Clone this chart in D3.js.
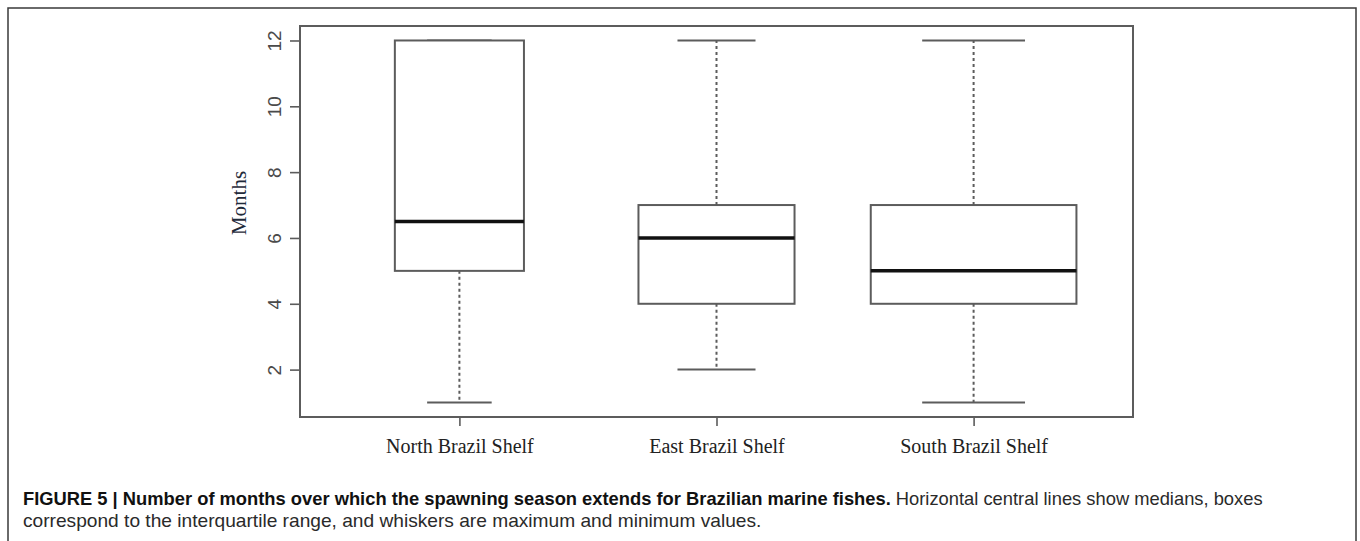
<!DOCTYPE html>
<html>
<head>
<meta charset="utf-8">
<script src="https://cdn.jsdelivr.net/npm/d3@7"></script>
<style>
  html, body { margin: 0; padding: 0; background: #fff; }
  svg { display: block; }
</style>
</head>
<body>
<svg id="chart" width="1360" height="541"></svg>
<script>
// ---- data ----
const categories = ["North Brazil Shelf", "East Brazil Shelf", "South Brazil Shelf"];
const minValues = [1, 2, 1];
const q1Values = [5, 4, 4];
const medianValues = [6.5, 6, 5];
const q3Values = [12, 7, 7];
const maxValues = [12, 12, 12];
const sampleSizes = [26, 38, 66];   // box widths drawn proportional to sqrt(n)
const yTickValues = [2, 4, 6, 8, 10, 12];
const yLabel = "Months";
const captionBold = "FIGURE 5 | Number of months over which the spawning season extends for Brazilian marine fishes.";
const captionRest = " Horizontal central lines show medians, boxes";
const captionLine2 = "correspond to the interquartile range, and whiskers are maximum and minimum values.";

const svg = d3.select("#chart");
const plot = { left: 300, right: 1133, top: 26, bottom: 417 };

// outer figure frame
svg.append("path")
  .attr("d", "M8,541 L8,8 L1356,8 L1356,541")
  .attr("fill", "none").attr("stroke", "#3a3a3a").attr("stroke-width", 1.5);

const boxes = categories.map((c, i) => ({
  cat: c, i: i + 1, min: minValues[i], q1: q1Values[i], med: medianValues[i],
  q3: q3Values[i], max: maxValues[i], n: sampleSizes[i]
}));

// R-style extended domains (4%)
const yMin = d3.min(minValues), yMax = d3.max(maxValues);
const yPad = (yMax - yMin) * 0.04;
const y = d3.scaleLinear().domain([yMin - yPad, yMax + yPad]).range([plot.bottom, plot.top]);
const xPad = 3 * 0.04;
const x = d3.scaleLinear().domain([0.5 - xPad, categories.length + 0.5 + xPad]).range([plot.left, plot.right]);
const maxSqrt = d3.max(sampleSizes, n => Math.sqrt(n));
const halfW = d => 0.4 * Math.sqrt(d.n) / maxSqrt;

const lineColor = "#5c5c5c";

// y axis
const yAxis = svg.append("g")
  .attr("transform", `translate(${plot.left},0)`)
  .call(d3.axisLeft(y).tickValues(yTickValues).tickSize(10).tickPadding(0).tickFormat(d3.format("d")));
yAxis.select(".domain").remove();
yAxis.selectAll(".tick line").attr("stroke", lineColor).attr("stroke-width", 1.6);
yAxis.selectAll(".tick text")
  .attr("transform", "translate(-19,0) rotate(-90)")
  .attr("x", 0).attr("y", 0).attr("dy", 0)
  .attr("text-anchor", "middle")
  .attr("font-family", "'Liberation Sans', Arial, sans-serif")
  .attr("font-size", 19).attr("fill", "#4a4a4a");

// x axis
const xAxis = svg.append("g")
  .attr("transform", `translate(0,${plot.bottom})`)
  .call(d3.axisBottom(x).tickValues(boxes.map(d => d.i)).tickSize(9).tickPadding(0).tickFormat(i => categories[i - 1]));
xAxis.select(".domain").remove();
xAxis.selectAll(".tick line").attr("stroke", lineColor).attr("stroke-width", 1.6);
xAxis.selectAll(".tick text")
  .attr("y", 36).attr("dy", 0)
  .attr("font-family", "'Liberation Serif', 'Times New Roman', serif")
  .attr("font-size", 20).attr("fill", "#222");

// y label
svg.append("text")
  .attr("transform", `translate(246,203) rotate(-90)`)
  .attr("text-anchor", "middle")
  .attr("font-family", "'Liberation Serif', 'Times New Roman', serif")
  .attr("font-size", 21).attr("fill", "#1f2a3a")
  .text(yLabel);

// boxes
const g = svg.append("g");
const bx = g.selectAll("g.box").data(boxes).join("g").attr("class", "box");

// whiskers
bx.append("line")
  .attr("x1", d => x(d.i)).attr("x2", d => x(d.i))
  .attr("y1", d => y(d.q3)).attr("y2", d => y(d.max))
  .attr("stroke", lineColor).attr("stroke-width", 2).attr("stroke-dasharray", "3,3");
bx.append("line")
  .attr("x1", d => x(d.i)).attr("x2", d => x(d.i))
  .attr("y1", d => y(d.q1)).attr("y2", d => y(d.min))
  .attr("stroke", lineColor).attr("stroke-width", 2).attr("stroke-dasharray", "3,3");
// staples
bx.append("line")
  .attr("x1", d => x(d.i - halfW(d) / 2)).attr("x2", d => x(d.i + halfW(d) / 2))
  .attr("y1", d => y(d.max)).attr("y2", d => y(d.max))
  .attr("stroke", lineColor).attr("stroke-width", 2);
bx.append("line")
  .attr("x1", d => x(d.i - halfW(d) / 2)).attr("x2", d => x(d.i + halfW(d) / 2))
  .attr("y1", d => y(d.min)).attr("y2", d => y(d.min))
  .attr("stroke", lineColor).attr("stroke-width", 2);
// box
bx.append("rect")
  .attr("x", d => x(d.i - halfW(d))).attr("width", d => x(d.i + halfW(d)) - x(d.i - halfW(d)))
  .attr("y", d => y(d.q3)).attr("height", d => y(d.q1) - y(d.q3))
  .attr("fill", "#fff").attr("stroke", lineColor).attr("stroke-width", 2);
// median
bx.append("line")
  .attr("x1", d => x(d.i - halfW(d))).attr("x2", d => x(d.i + halfW(d)))
  .attr("y1", d => y(d.med)).attr("y2", d => y(d.med))
  .attr("stroke", "#111").attr("stroke-width", 3.5);

// plot frame
svg.append("rect")
  .attr("x", plot.left).attr("y", plot.top)
  .attr("width", plot.right - plot.left).attr("height", plot.bottom - plot.top)
  .attr("fill", "none").attr("stroke", lineColor).attr("stroke-width", 2);

// caption
const capFont = "'Liberation Sans', Arial, Helvetica, sans-serif";
const cap1 = svg.append("text")
  .attr("x", 23).attr("y", 505)
  .attr("font-family", capFont).attr("font-size", 17).attr("fill", "#111");
cap1.append("tspan").attr("font-weight", "bold").text(captionBold);
cap1.append("tspan").attr("fill", "#2a2a2a").text(captionRest);
const cap2 = svg.append("text")
  .attr("x", 23).attr("y", 527)
  .attr("font-family", capFont).attr("font-size", 17).attr("fill", "#2a2a2a")
  .text(captionLine2);
// fit caption lines to the reference line widths
const w1 = cap1.node().getComputedTextLength();
cap1.attr("font-size", 17 * 1240 / w1);
const w2 = cap2.node().getComputedTextLength();
cap2.attr("font-size", 17 * 739 / w2);
</script>
</body>
</html>
